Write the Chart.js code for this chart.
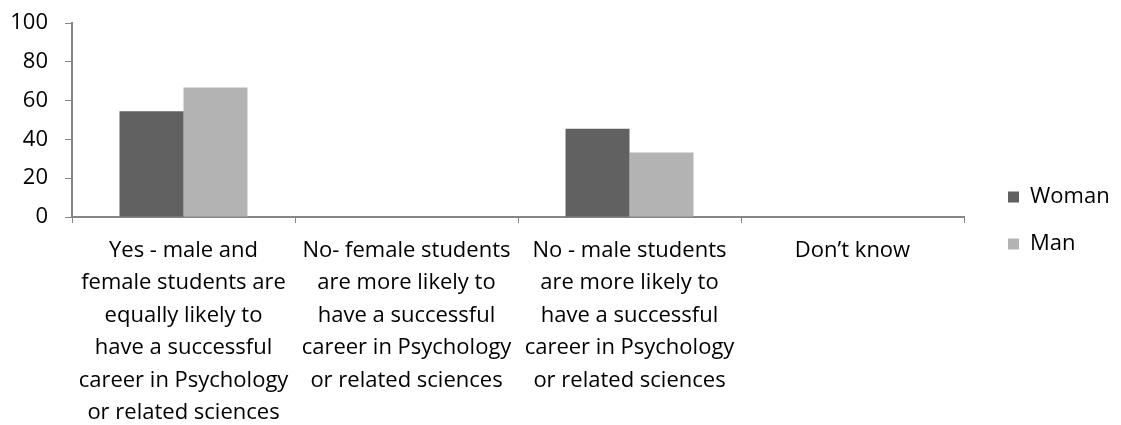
<!DOCTYPE html>
<html>
<head>
<meta charset="utf-8">
<script src="https://cdn.jsdelivr.net/npm/chart.js@4/dist/chart.umd.min.js"></script>
<style>
  html, body { margin: 0; padding: 0; background: #ffffff; }
  #wrap { width: 1121px; height: 425px; position: relative; }
</style>
</head>
<body>
<div id="wrap"><canvas id="c" width="1121" height="425"></canvas></div>
<script>
// Answer options (each split into the lines shown under the axis)
const categories = [
  ["Yes - male and", "female students are", "equally likely to", "have a successful", "career in Psychology", "or related sciences"],
  ["No- female students", "are more likely to", "have a successful", "career in Psychology", "or related sciences"],
  ["No - male students", "are more likely to", "have a successful", "career in Psychology", "or related sciences"],
  ["Don\u2019t know"]
];
const womanValues = [54.5, 0, 45.5, 0];
const manValues = [66.7, 0, 33.3, 0];
const yTicks = [0, 20, 40, 60, 80, 100];

const FONT = "'Open Sans', sans-serif";
const FONT_SIZE = 22;
const AXIS_COLOR = "#868686";

// Legend drawn at the right, beside the plot
const sideLegend = {
  id: "sideLegend",
  afterDraw(chart) {
    const ctx = chart.ctx;
    ctx.save();
    ctx.font = FONT_SIZE + "px " + FONT;
    ctx.textBaseline = "middle";
    ctx.textAlign = "left";
    chart.data.datasets.forEach((ds, i) => {
      const y = 197 + i * 47;
      ctx.fillStyle = ds.backgroundColor;
      ctx.fillRect(1008, y - 5.5, 11, 11);
      ctx.fillStyle = "#000000";
      ctx.fillText(ds.label, 1030, y);
    });
    ctx.restore();
  }
};

new Chart(document.getElementById("c"), {
  type: "bar",
  data: {
    labels: categories,
    datasets: [
      { label: "Woman", data: womanValues, backgroundColor: "#616161", categoryPercentage: 0.574, barPercentage: 1.0 },
      { label: "Man", data: manValues, backgroundColor: "#b3b3b3", categoryPercentage: 0.574, barPercentage: 1.0 }
    ]
  },
  options: {
    responsive: false,
    animation: false,
    layout: { padding: { top: 23, right: 157, left: 0, bottom: 0 } },
    plugins: {
      legend: { display: false },
      tooltip: { enabled: false }
    },
    scales: {
      x: {
        grid: { display: true, drawOnChartArea: false, drawTicks: true, tickLength: 6, color: AXIS_COLOR, offset: true },
        border: { display: true, color: AXIS_COLOR, width: 2 },
        ticks: {
          color: "#000000",
          font: { family: FONT, size: FONT_SIZE, lineHeight: 32.5 / FONT_SIZE },
          padding: 11,
          maxRotation: 0,
          autoSkip: false
        },
        afterFit(scale) {
          scale.height = 208;
          scale.paddingLeft = 0;
          scale.paddingRight = 0;
        }
      },
      y: {
        min: 0,
        max: 100,
        afterBuildTicks(scale) { scale.ticks = yTicks.map(v => ({ value: v })); },
        grid: { display: true, drawOnChartArea: false, drawTicks: true, tickLength: 7, color: AXIS_COLOR },
        border: { display: true, color: AXIS_COLOR, width: 2 },
        ticks: {
          color: "#000000",
          font: { family: FONT, size: FONT_SIZE },
          padding: 17
        },
        afterFit(scale) {
          scale.width = 72;
          scale.paddingTop = 0;
          scale.paddingBottom = 0;
        }
      }
    }
  },
  plugins: [sideLegend]
});
</script>
</body>
</html>
